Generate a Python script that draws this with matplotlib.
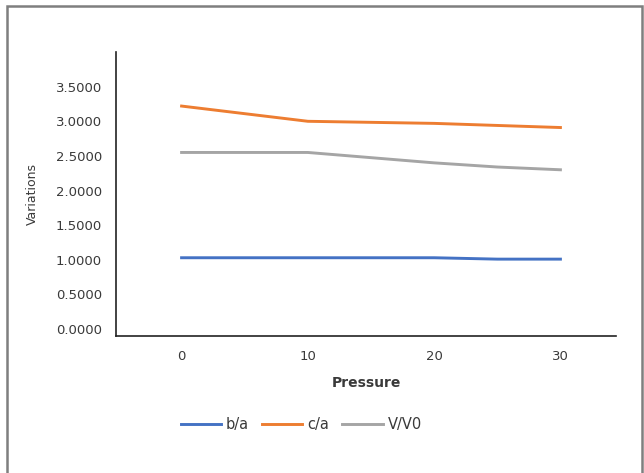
import matplotlib
matplotlib.use("Agg")
import matplotlib.pyplot as plt
from matplotlib.patches import Rectangle

pressure = [0, 10, 20, 25, 30]
b_a = [1.03, 1.03, 1.03, 1.01, 1.01]
c_a = [3.22, 3.00, 2.97, 2.94, 2.91]
v_v0 = [2.55, 2.55, 2.40, 2.34, 2.30]
yticks = [0.0, 0.5, 1.0, 1.5, 2.0, 2.5, 3.0, 3.5]
xticks = [0, 10, 20, 30]

plt.rcParams['font.family'] = 'DejaVu Sans'
txt = '#3a3a3a'

fig = plt.figure(figsize=(6.44, 4.73), dpi=100)
ax = fig.add_axes([0.180, 0.2896, 0.7765, 0.6004])

ax.plot(pressure, b_a, color='#4472c4', lw=2.1, label='b/a')
ax.plot(pressure, c_a, color='#ed7d31', lw=2.1, label='c/a')
ax.plot(pressure, v_v0, color='#a5a5a5', lw=2.1, label='V/V0')

ax.set_xlim(-5.2, 34.4)
ax.set_ylim(-0.1, 4.0)
ax.set_yticks(yticks)
ax.set_yticklabels(['%.4f' % v for v in yticks])
ax.set_xticks(xticks)
ax.tick_params(length=0, labelsize=9.5, colors=txt)
ax.tick_params(axis='y', pad=10)
ax.tick_params(axis='x', pad=10)

for s in ['top', 'right']:
    ax.spines[s].set_visible(False)
for s in ['left', 'bottom']:
    ax.spines[s].set_color('#222222')
    ax.spines[s].set_linewidth(1.2)

ax.set_xlabel('Pressure', fontsize=10, fontweight='bold', color=txt)
ax.set_ylabel('Variations', fontsize=9, color=txt)
ax.xaxis.set_label_coords(0.5, -0.165)
ax.yaxis.set_label_coords(-0.168, 0.5)
ax.xaxis.label.set_va('center')
ax.yaxis.label.set_va('center')

fig.legend(loc='center', bbox_to_anchor=(0.468, 0.1015), ncol=3, frameon=False,
           fontsize=10.5, handlelength=2.75, handletextpad=0.35, columnspacing=0.9,
           labelcolor=txt)

fig.patches.append(Rectangle((7 / 644, -0.05), 635 / 644, 1.05 - 6 / 473,
                             transform=fig.transFigure, fill=False,
                             edgecolor='#7f7f7f', lw=1.8))

fig.savefig('out.png', dpi=100)
